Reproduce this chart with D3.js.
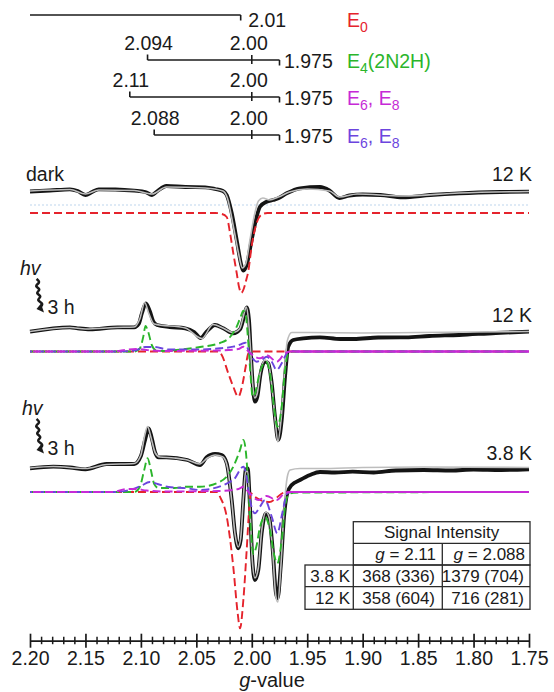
<!DOCTYPE html>
<html>
<head>
<meta charset="utf-8">
<script src="https://cdn.jsdelivr.net/npm/d3@7"></script>
<style>
  body { margin: 0; background: #fff; }
  text { font-family: "Liberation Sans", Arial, Helvetica, sans-serif; fill: #1a1a1a; }
</style>
</head>
<body>
<svg id="chart" width="554" height="692"></svg>
<script>
// ---- axis ----
const tickValues = [2.20, 2.15, 2.10, 2.05, 2.00, 1.95, 1.90, 1.85, 1.80, 1.75];
const tickLabels = ["2.20", "2.15", "2.10", "2.05", "2.00", "1.95", "1.90", "1.85", "1.80", "1.75"];

// ---- g-value bars at the top ----
const barNames = [["E", "0"], ["E", "4", "(2N2H)"], ["E", "6", ", E", "8"], ["E", "6", ", E", "8"]];
const barLeft = [2.20, 2.094, 2.11, 2.088];
const barMid = [null, 2.00, 2.00, 2.00];
const barRight = [2.01, 1.975, 1.975, 1.975];
const barLeftText = [null, "2.094", "2.11", "2.088"];
const barMidText = [null, "2.00", "2.00", "2.00"];
const barRightText = ["2.01", "1.975", "1.975", "1.975"];

// ---- spectra: [g, intensity (a.u.)] ----
// dark, 12 K
const darkExp = [[2.200,-0.5],[2.182,0.5],[2.164,1.7],[2.157,0],[2.150,-4],[2.144,-1],[2.138,1.7],[2.123,1.5],[2.106,0.3],[2.096,-1],[2.090,-4],[2.085,0],[2.077,5],[2.060,4],[2.042,3.7],[2.033,2],[2.026,0],[2.0226,-4],[2.0181,-22],[2.0136,-49],[2.0091,-75.7],[2.0076,-79.7],[2.0046,-74],[2.0001,-49],[1.9956,-25.7],[1.9926,-15.7],[1.9866,-10.7],[1.9806,-9],[1.9761,-7.3],[1.9685,-2.3],[1.9565,2.7],[1.9385,4],[1.930,0.5],[1.921,-7],[1.912,-4.5],[1.900,-3.5],[1.884,-4],[1.864,-6.3],[1.839,-4],[1.813,-2.3],[1.776,-1],[1.750,-0.7]];
const darkSim = [[2.200,0],[2.164,1.5],[2.150,-3],[2.138,1],[2.106,0.5],[2.090,-3],[2.077,4],[2.042,3],[2.026,0],[2.022,-7],[2.0165,-36],[2.012,-62],[2.0085,-77],[2.0055,-73],[2.0015,-48],[1.997,-21],[1.994,-10],[1.990,-7],[1.984,-9],[1.976,-6],[1.966,-1],[1.950,2],[1.930,0],[1.921,-6],[1.905,-3],[1.864,-5],[1.813,-2],[1.750,-0.5]];
const darkE0 = [[2.200,0],[2.033,0],[2.0269,-1],[2.0226,-4],[2.0196,-20],[2.0167,-40],[2.0136,-60],[2.0115,-74],[2.0094,-80],[2.0073,-76],[2.005,-67],[2.0031,-58],[2.0001,-33],[1.9956,-10],[1.991,-1.5],[1.986,0],[1.750,0]];
const darkBlank = [[2.20,0],[1.75,0]];

// hv 3 h, 12 K
const hv12Exp = [[2.200,1.3],[2.164,5.7],[2.157,4.7],[2.146,3.7],[2.121,5.7],[2.106,5.7],[2.102,9],[2.099,20],[2.0955,29.7],[2.092,22],[2.089,12],[2.0855,8],[2.074,6],[2.060,4.7],[2.052,1],[2.046,-5],[2.0407,1.3],[2.0332,8],[2.0257,4.7],[2.0167,-0.3],[2.0106,3.7],[2.007,16.3],[2.0046,25.7],[2.0025,13],[2.001,-17],[1.9992,-50.3],[1.9971,-68.7],[1.995,-63.7],[1.992,-40.3],[1.9881,-28.7],[1.9851,-30.3],[1.982,-50.3],[1.9791,-83.7],[1.9761,-107],[1.973,-87],[1.970,-43.7],[1.9671,-13.7],[1.9626,-7],[1.9535,-5.3],[1.9385,-4.3],[1.920,-6],[1.908,-6],[1.886,-4.5],[1.861,-4.3],[1.840,-3],[1.813,-2],[1.780,0],[1.750,1.3]];
const hv12Sim = [[2.200,1.5],[2.164,5.5],[2.150,4],[2.123,5.5],[2.106,6],[2.101,14],[2.0965,30.5],[2.093,20],[2.088,9],[2.060,5],[2.045,-5.5],[2.035,8.5],[2.026,5],[2.017,0.5],[2.011,4],[2.0075,17],[2.005,26],[2.003,13],[2.0012,-15],[1.9994,-48],[1.9973,-65],[1.9952,-61],[1.992,-38],[1.988,-27],[1.985,-30],[1.982,-52],[1.979,-86],[1.9765,-109],[1.9735,-86],[1.9705,-40],[1.968,-8],[1.964,0.5],[1.950,0.5],[1.900,0],[1.850,0.5],[1.750,1.5]];
const hv12E0 = [[2.200,0],[2.030,0],[2.0271,-3.5],[2.0212,-21.8],[2.0167,-35.2],[2.0122,-45.2],[2.0082,-31.8],[2.0055,-15.2],[2.0031,-1.8],[2.000,0],[1.750,0]];
const hv12E4 = [[2.200,0],[2.106,0],[2.101,3],[2.098,14],[2.0958,25.5],[2.0935,20],[2.090,6],[2.086,1],[2.080,0.5],[2.068,1.5],[2.0467,4.5],[2.0287,8.5],[2.0196,14.5],[2.0136,24.8],[2.0100,34.8],[2.0076,40.8],[2.0055,36.5],[2.0031,8.2],[2.0010,-25.2],[1.9992,-45.2],[1.9971,-41.8],[1.9926,-20.2],[1.9872,-10.2],[1.9836,-21.8],[1.9800,-55.2],[1.9770,-75.2],[1.9730,-55.2],[1.9700,-18.5],[1.9671,-1.8],[1.9626,0],[1.750,0]];
const hv12E6b = [[2.200,0],[2.120,0],[2.106,1],[2.096,4.5],[2.088,4.5],[2.075,2],[2.050,2],[2.0287,3.2],[2.0167,4.8],[2.0091,7.5],[2.0058,8.8],[2.0031,1.5],[2.0001,-5.2],[1.9956,-10.2],[1.9911,-8.5],[1.9866,-5.2],[1.9820,-10.2],[1.9776,-18.5],[1.9730,-11.8],[1.9685,-1.8],[1.9655,0.8],[1.960,0],[1.750,0]];
const hv12E6a = [[2.200,0],[2.125,0],[2.112,2],[2.104,2.5],[2.095,1.5],[2.080,0.5],[2.030,1],[2.012,2.5],[2.0076,4.8],[2.003,0],[1.9926,-6.8],[1.9866,-3.5],[1.9776,-10.2],[1.970,-1.8],[1.965,0],[1.750,0]];

// hv 3 h, 3.8 K
const hv38Exp = [[2.200,-3.3],[2.179,-1.7],[2.164,-2.5],[2.150,-4.3],[2.131,1],[2.106,1],[2.100,9],[2.096,26],[2.093,36.7],[2.090,26],[2.087,12],[2.084,7.7],[2.077,7.7],[2.058,5],[2.0467,0],[2.0407,7.7],[2.0332,11],[2.0271,10],[2.0226,1.7],[2.0181,-35],[2.0151,-68.3],[2.0122,-83.3],[2.0100,-75],[2.0076,-35],[2.0055,-5],[2.0037,-3.3],[2.0016,-41.7],[1.9995,-95],[1.9971,-115],[1.9941,-105],[1.9911,-68.3],[1.9872,-48.3],[1.9842,-53.3],[1.9811,-85],[1.9782,-128.3],[1.9767,-133.3],[1.9739,-101.7],[1.9709,-51.7],[1.9680,-28.3],[1.9640,-20],[1.9565,-15],[1.9475,-10],[1.9385,-7],[1.925,-7.5],[1.909,-6.7],[1.890,-7.5],[1.870,-5.5],[1.845,-5],[1.820,-5.5],[1.800,-4.5],[1.775,-5],[1.750,-4.3]];
const hv38Sim = [[2.200,-3],[2.179,-1.5],[2.150,-3.5],[2.131,0.5],[2.106,1.5],[2.100,10],[2.0965,30],[2.094,38.5],[2.091,28],[2.087,12],[2.083,8],[2.070,7],[2.058,5],[2.047,1],[2.040,7],[2.033,10],[2.026,8],[2.022,-2],[2.0181,-36],[2.0151,-69],[2.0122,-82],[2.010,-73],[2.0076,-33],[2.0055,-7],[2.0037,-6],[2.0016,-43],[1.9995,-96],[1.9971,-113],[1.9941,-103],[1.9911,-66],[1.9872,-47],[1.9842,-53],[1.9811,-88],[1.9782,-132],[1.9765,-137],[1.9739,-104],[1.9709,-45],[1.968,-12],[1.9655,-5],[1.9565,-3.5],[1.9385,-3.5],[1.900,-2.5],[1.845,-2],[1.750,-2.5]];
const hv38E0 = [[2.200,0],[2.031,0],[2.0287,-4.7],[2.0226,-24.7],[2.0167,-74.7],[2.0127,-121.3],[2.0106,-136.3],[2.0076,-108],[2.0046,-58],[2.0022,-14.7],[2.0010,-1.3],[1.9970,-5],[1.9900,-9],[1.9840,-10],[1.9780,-6],[1.9720,-1],[1.9680,0],[1.750,0]];
const hv38E4 = [[2.200,0],[2.106,0],[2.101,5],[2.097,22],[2.094,33.7],[2.091,22],[2.088,8],[2.084,4],[2.070,4],[2.058,5.3],[2.0467,5.3],[2.0287,10.3],[2.0167,25.3],[2.0106,42],[2.0076,52],[2.0052,38.7],[2.0031,5.3],[2.0010,-34.7],[1.9986,-62],[1.9960,-55],[1.9926,-35],[1.9881,-25],[1.9836,-38],[1.9800,-62],[1.9770,-71.3],[1.9730,-48],[1.9700,-14.7],[1.9671,-3],[1.9626,-0.7],[1.750,0]];
const hv38E6b = [[2.200,0],[2.125,0],[2.110,2],[2.100,6],[2.092,10],[2.085,8],[2.075,5],[2.058,3.7],[2.0467,2],[2.0167,12],[2.0076,25.3],[2.0046,15.3],[2.0016,-8],[1.9971,-21.3],[1.9926,-14.7],[1.9881,-8],[1.9820,-24.7],[1.9770,-41.3],[1.9725,-21.3],[1.9680,-1.3],[1.9640,0],[1.750,0]];
const hv38E6a = [[2.200,0],[2.125,0],[2.113,3],[2.105,3],[2.095,1.5],[2.080,0.5],[2.030,1],[2.012,3],[2.0076,5.3],[2.003,0],[1.9941,-8],[1.9866,-4],[1.9776,-8],[1.970,-1],[1.965,0],[1.750,0]];

// ---- table ----
const tableTitle = "Signal Intensity";
const tableG = ["2.11", "2.088"];
const tableTemps = ["3.8 K", "12 K"];
const tableValues = [["368 (336)", "1379 (704)"], ["358 (604)", "716 (281)"]];

const panelTemps = ["12 K", "12 K", "3.8 K"];

// ---- colours ----
const cRed = "#e5232c", cGreen = "#2bb52b", cMagenta = "#c62ad6", cViolet = "#6c45de";
const barColors = [cRed, cGreen, cMagenta, cViolet];

const svg = d3.select("#chart");
const x = d3.scaleLinear().domain([2.20, 1.75]).range([30, 529]);
const amp = d3.scaleLinear().domain([0, 1]).range([0, -1]);

// ---------- top bars ----------
const barY = [15, 60, 97, 135];
const barG = svg.append("g").attr("stroke", "#1a1a1a").attr("stroke-width", 1.6);
barLeft.forEach((gl, i) => {
  const y = barY[i];
  barG.append("line").attr("x1", x(gl)).attr("x2", x(barRight[i])).attr("y1", y).attr("y2", y);
  barG.append("line").attr("x1", x(barRight[i])).attr("x2", x(barRight[i])).attr("y1", y).attr("y2", y + 5.5);
  if (barMid[i] != null) {
    barG.append("line").attr("x1", x(gl)).attr("x2", x(gl)).attr("y1", y - 5.5).attr("y2", y);
    barG.append("line").attr("x1", x(barMid[i])).attr("x2", x(barMid[i])).attr("y1", y - 5).attr("y2", y + 4);
  }
  const fs = 19.5;
  if (barLeftText[i]) {
    svg.append("text").attr("x", x(gl) + 1).attr("y", y - 10.5).attr("text-anchor", "middle")
      .attr("font-size", fs).text(barLeftText[i]);
    svg.append("text").attr("x", x(barMid[i]) - 3).attr("y", y - 10.5).attr("text-anchor", "middle")
      .attr("font-size", fs).text(barMidText[i]);
  }
  svg.append("text").attr("x", x(barRight[i]) + (barMid[i] != null ? 4.5 : 7.5)).attr("y", y + (barMid[i] != null ? 7.5 : 12))
    .attr("font-size", fs).text(barRightText[i]);
  // species label with subscripts
  const t = svg.append("text").attr("x", 347).attr("y", y + (barMid[i] != null ? 7.5 : 12))
    .attr("font-size", fs).style("fill", barColors[i]);
  barNames[i].forEach((p, k) => {
    const sub = k % 2 === 1;
    const ts = t.append("tspan").text(p).style("fill", barColors[i]);
    if (sub) ts.attr("font-size", 14).attr("dy", 5);
    else if (k > 0) ts.attr("dy", -5);
  });
});

// ---------- spectra ----------
const panels = [
  { exp: darkExp, sim: darkSim, fits: [darkE0], colors: [cRed], base: 191, fitBase: 213 },
  { exp: hv12Exp, sim: hv12Sim, fits: [hv12E0, hv12E4, hv12E6b, hv12E6a], colors: [cRed, cGreen, cViolet, cMagenta], base: 333, fitBase: 351.5 },
  { exp: hv38Exp, sim: hv38Sim, fits: [hv38E0, hv38E4, hv38E6b, hv38E6a], colors: [cRed, cGreen, cViolet, cMagenta], base: 465, fitBase: 492 }
];

const lineAt = base => d3.line().x(d => x(d[0])).y(d => base + amp(d[1])).curve(d3.curveMonotoneX);

svg.append("clipPath").attr("id", "rightFlat")
  .append("rect").attr("x", x(1.964)).attr("y", 0).attr("width", 300).attr("height", 692);

// faint dotted line in dark panel
svg.append("path").datum(darkBlank).attr("d", lineAt(205)).attr("fill", "none")
  .attr("stroke", "#d4e4f3").attr("stroke-width", 1.5).attr("stroke-dasharray", "2,2");

panels.forEach((p, pi) => {
  const g = svg.append("g");
  g.append("path").datum(p.exp).attr("d", lineAt(p.base)).attr("fill", "none")
    .attr("stroke", "#141414").attr("stroke-width", 3.8).attr("stroke-linejoin", "round");
  g.append("path").datum(p.sim).attr("d", lineAt(p.base)).attr("fill", "none")
    .attr("stroke", "#bdbdbd").attr("stroke-width", 1.6).attr("stroke-linejoin", "round");
  p.fits.forEach((f, k) => {
    g.append("path").datum(f).attr("d", lineAt(p.fitBase)).attr("fill", "none")
      .attr("stroke", p.colors[k]).attr("stroke-width", 1.9)
      .attr("stroke-dasharray", "8,4").attr("stroke-dashoffset", k * 3);
  });
  if (pi > 0) {
    g.append("path").datum(p.fits[p.fits.length - 1]).attr("d", lineAt(p.fitBase)).attr("fill", "none")
      .attr("stroke", cMagenta).attr("stroke-width", 1.9).attr("clip-path", "url(#rightFlat)");
  }
  svg.append("text").attr("x", 532).attr("y", [181, 321.5, 459.5][pi]).attr("text-anchor", "end")
    .attr("font-size", 19.5).text(panelTemps[pi]);
});

svg.append("text").attr("x", 26).attr("y", 181).attr("font-size", 19.5).text("dark");

// hv squiggles
[[275, 314], [415, 455]].forEach(([yHv, y3h], i) => {
  svg.append("text").attr("x", i ? 22 : 20).attr("y", yHv).attr("font-size", 19.5)
    .attr("font-style", "italic").text("hv");
  svg.append("text").attr("x", 47.5).attr("y", y3h).attr("font-size", 19.5).text("3 h");
  const y0 = yHv + 4, y1 = y3h - 7;
  const n = 8;
  const pts = d3.range(n + 1).map(j => [36.5 + (j === 0 || j === n ? 0 : (j % 2 ? 3.8 : -3.8)) + j * 0.5, y0 + (y1 - y0) * j / n]);
  svg.append("path").attr("d", d3.line().curve(d3.curveBasis)(pts)).attr("fill", "none")
    .attr("stroke", "#1a1a1a").attr("stroke-width", 2.5);
  const ex = 41.5, ey = y1 + 3;
  svg.append("path").attr("d", `M${ex + 2.5},${ey + 2.5} L${ex - 5},${ey - 1} L${ex - 0.5},${ey - 6.5} Z`).attr("fill", "#1a1a1a");
});

// ---------- table ----------
const tx = [305, 353.3, 442.3, 530];
const ty = [521.7, 543.3, 565, 586.7, 609.3];
const tg = svg.append("g").attr("stroke", "#2a2a2a").attr("stroke-width", 1.3).attr("fill", "none");
tg.append("rect").attr("x", tx[1]).attr("y", ty[0]).attr("width", tx[3] - tx[1]).attr("height", ty[2] - ty[0]);
tg.append("line").attr("x1", tx[1]).attr("x2", tx[3]).attr("y1", ty[1]).attr("y2", ty[1]);
tg.append("line").attr("x1", tx[2]).attr("x2", tx[2]).attr("y1", ty[1]).attr("y2", ty[4]);
tg.append("rect").attr("x", tx[0]).attr("y", ty[2]).attr("width", tx[3] - tx[0]).attr("height", ty[4] - ty[2]);
tg.append("line").attr("x1", tx[0]).attr("x2", tx[3]).attr("y1", ty[3]).attr("y2", ty[3]);
tg.append("line").attr("x1", tx[1]).attr("x2", tx[1]).attr("y1", ty[2]).attr("y2", ty[4]);

const tfs = 17;
svg.append("text").attr("x", (tx[1] + tx[3]) / 2).attr("y", 537.5).attr("text-anchor", "middle")
  .attr("font-size", tfs).text(tableTitle);
tableG.forEach((gv, j) => {
  const t = svg.append("text").attr("x", j ? 525 : 436).attr("y", 559.5).attr("text-anchor", "end").attr("font-size", tfs);
  t.append("tspan").attr("font-style", "italic").text("g");
  t.append("tspan").text(" = " + gv);
});
tableTemps.forEach((tt, i) => {
  const y = [581.7, 603.6][i];
  svg.append("text").attr("x", 350).attr("y", y).attr("text-anchor", "end").attr("font-size", tfs).text(tt);
  tableValues[i].forEach((v, j) => {
    svg.append("text").attr("x", j ? 524 : 435).attr("y", y).attr("text-anchor", "end").attr("font-size", tfs).text(v);
  });
});

// ---------- axis ----------
const axisY = 640.7;
const minorTicks = d3.range(175, 221).map(v => v / 100).filter(v => Math.round(v * 100) % 5 !== 0);
const minor = svg.append("g").attr("transform", `translate(0,${axisY})`)
  .call(d3.axisBottom(x).tickValues(minorTicks).tickFormat("").tickSize(3.5).tickSizeOuter(0));
minor.select(".domain").remove();
minor.selectAll(".tick line").attr("y1", -4).attr("stroke", "#1a1a1a").attr("stroke-width", 1.5);

const major = svg.append("g").attr("transform", `translate(0,${axisY})`)
  .call(d3.axisBottom(x).tickValues(tickValues).tickFormat((d, i) => tickLabels[i]).tickSize(7).tickSizeOuter(0));
major.select(".domain").attr("stroke", "#1a1a1a").attr("stroke-width", 1.7);
major.selectAll(".tick line").attr("y1", -7).attr("stroke", "#1a1a1a").attr("stroke-width", 1.7);
major.selectAll(".tick text").attr("y", 24.5).attr("dy", 0).attr("font-size", 19.5)
  .attr("font-family", "Liberation Sans, Arial, sans-serif").style("fill", "#1a1a1a");

const xl = svg.append("text").attr("x", 272).attr("y", 686.5).attr("text-anchor", "middle").attr("font-size", 20);
xl.append("tspan").attr("font-style", "italic").text("g");
xl.append("tspan").text("-value");
</script>
</body>
</html>
